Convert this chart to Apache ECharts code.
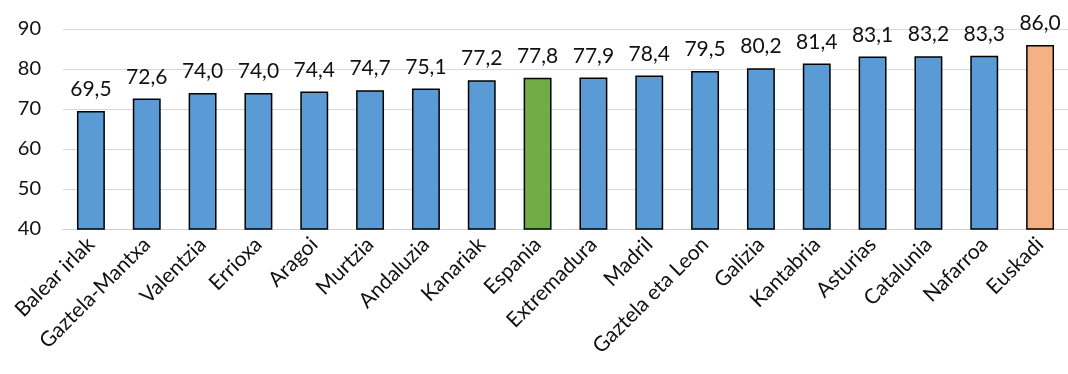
<!DOCTYPE html>
<html><head><meta charset="utf-8">
<script src="https://cdn.jsdelivr.net/npm/echarts@6/dist/echarts.min.js"></script>
<style>html,body{margin:0;padding:0;background:#fff}#c{width:1068px;height:374px}</style>
</head><body><div id="c"></div>
<script>
const categories = ['Balear irlak','Gaztela-Mantxa','Valentzia','Errioxa','Aragoi','Murtzia','Andaluzia','Kanariak','Espania','Extremadura','Madril','Gaztela eta Leon','Galizia','Kantabria','Asturias','Catalunia','Nafarroa','Euskadi'];
const values = [69.5,72.6,74.0,74.0,74.4,74.7,75.1,77.2,77.8,77.9,78.4,79.5,80.2,81.4,83.1,83.2,83.3,86.0];
const highlight = {'Espania':'#70AD47','Euskadi':'#F4B183'};
const baseColor = '#5B9BD5';
const yTicks = [40,50,60,70,80,90];

const font = 'Lato, "Open Sans", sans-serif';
const chart = echarts.init(document.getElementById('c'));
chart.setOption({
  animation:false,
  grid:{left:63,right:0,top:29,bottom:145,containLabel:false},
  xAxis:{type:'category',data:categories,
    axisLine:{show:true,lineStyle:{color:'#d0d0d0',width:1}},
    axisTick:{show:false},
    axisLabel:{rotate:45,fontSize:21,color:'#111',fontFamily:font,interval:0,margin:12}},
  yAxis:{type:'value',min:yTicks[0],max:yTicks[yTicks.length-1],interval:10,
    axisLine:{show:false},axisTick:{show:false},
    splitLine:{lineStyle:{color:'#d9d9d9',width:1}},
    axisLabel:{fontSize:20,color:'#111',fontFamily:font,margin:22}},
  series:[{type:'bar',barWidth:'50%',
    data:values.map((v,i)=>({value:v,itemStyle:{color:highlight[categories[i]]||baseColor}})),
    itemStyle:{borderColor:'#000',borderWidth:1.5},
    label:{show:true,position:'top',distance:11,fontSize:21,color:'#111',fontFamily:font,
      formatter:p=>p.value.toFixed(1).replace('.',',')}}]
});
</script></body></html>
